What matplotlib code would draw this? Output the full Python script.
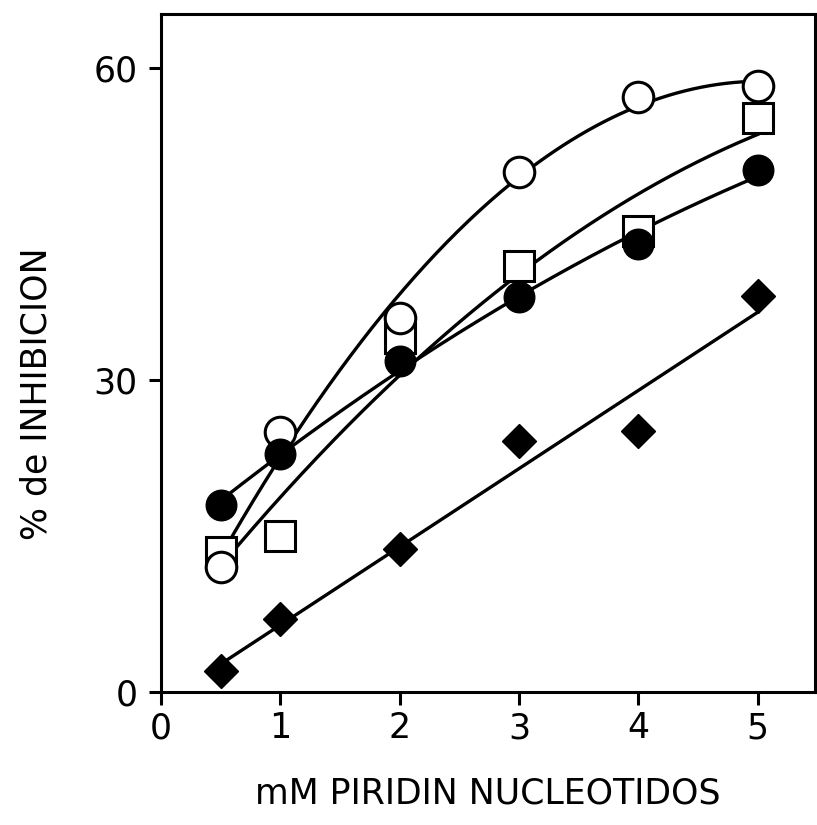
import numpy as np
import matplotlib
matplotlib.use("Agg")
import matplotlib.pyplot as plt

# mM piridin nucleotidos
conc = [0.5, 1, 2, 3, 4, 5]

# % de inhibicion
open_circle = [12, 25, 36, 50, 57.2, 58.3]
open_square = [13.5, 15, 34, 41, 44.3, 55.2]
filled_circle = [18, 22.9, 31.8, 38, 43.1, 50.2]
filled_diamond = [2, 7, 13.8, 24.1, 25.1, 38.1]

x_ticks = [0, 1, 2, 3, 4, 5]
y_ticks = [0, 30, 60]

plt.rcParams['font.family'] = ['DejaVu Sans']

fig = plt.figure(figsize=(8.17, 8.25), dpi=100)
ax = fig.add_axes([0.197, 0.1612, 0.8006, 0.8218])

xs = np.linspace(conc[0], conc[-1], 200)

def trend(y, deg):
    p = np.polyfit(conc, y, deg)
    return np.polyval(p, xs)

lw = 2.4
ax.plot(xs, trend(open_circle, 2), '-k', lw=lw, zorder=2)
ax.plot(xs, trend(open_square, 2), '-k', lw=lw, zorder=2)
ax.plot(xs, trend(filled_circle, 2), '-k', lw=lw, zorder=2)
ax.plot(xs, trend(filled_diamond, 1), '-k', lw=lw, zorder=2)

ax.plot(conc, open_square, 's', ms=22, mfc='white', mec='black', mew=2.2, zorder=3)
ax.plot(conc, open_circle, 'o', ms=22, mfc='white', mec='black', mew=2.2, zorder=4)
ax.plot(conc, filled_circle, 'o', ms=22, mfc='black', mec='black', zorder=5)
ax.plot(conc, filled_diamond, 'D', ms=17, mfc='black', mec='black', zorder=5)

ax.set_xlim(0, 5.48)
ax.set_ylim(0, 65.2)
ax.set_xticks(x_ticks)
ax.set_yticks(y_ticks)

for s in ax.spines.values():
    s.set_linewidth(2.2)
ax.tick_params(axis='both', width=2.2, length=9, labelsize=25)
ax.tick_params(axis='x', pad=5)
ax.tick_params(axis='y', pad=8)

ax.set_xlabel('mM PIRIDIN NUCLEOTIDOS', fontsize=25, labelpad=22)
ax.set_ylabel('% de INHIBICION', fontsize=25)
ax.yaxis.set_label_coords(-0.165, 0.44)

fig.savefig('out.png', dpi=100)
